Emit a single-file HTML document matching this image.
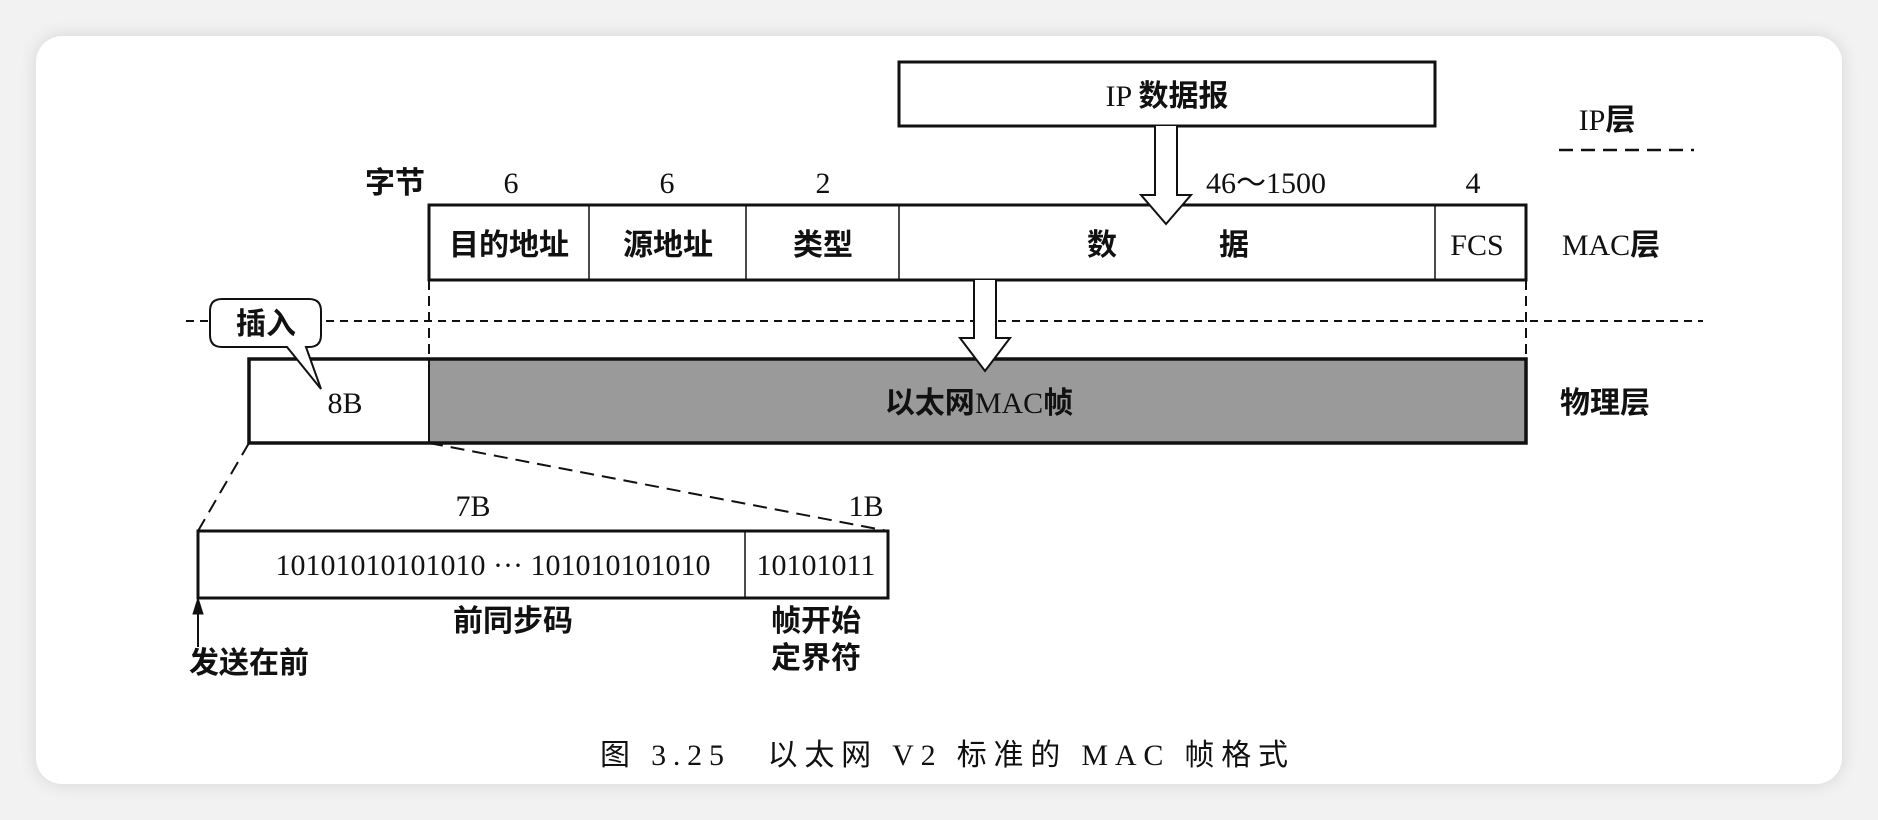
<!DOCTYPE html>
<html><head><meta charset="utf-8"><style>
html,body{margin:0;padding:0;background:#f2f2f2;}
body{width:1878px;height:820px;overflow:hidden;position:relative;}
.card{position:absolute;left:36px;top:36px;width:1806px;height:748px;background:#fff;border-radius:26px;box-shadow:0 0 18px rgba(0,0,0,0.12);}
svg{position:absolute;left:0;top:0;}
text{font-family:"Liberation Serif","Noto Sans CJK SC",serif;font-size:30px;fill:#111;}
.c{font-family:"Liberation Serif","Noto Sans CJK SC",sans-serif;font-weight:bold;}
</style></head><body>
<div class="card"></div>
<svg width="1878" height="820" viewBox="0 0 1878 820">
<g stroke="#111" fill="none">
<rect x="899" y="62" width="536" height="64" stroke-width="3" fill="#fff"/>
<line x1="1559" y1="150" x2="1694" y2="150" stroke-width="2.5" stroke-dasharray="14,8"/>
<rect x="429" y="205" width="1097" height="75" stroke-width="3" fill="#fff"/>
<line x1="589" y1="205" x2="589" y2="280" stroke-width="1.5"/>
<line x1="746" y1="205" x2="746" y2="280" stroke-width="1.5"/>
<line x1="899" y1="205" x2="899" y2="280" stroke-width="1.5"/>
<line x1="1435" y1="205" x2="1435" y2="280" stroke-width="1.5"/>
<line x1="429" y1="280" x2="429" y2="359" stroke-width="2" stroke-dasharray="10,6"/>
<line x1="1526" y1="280" x2="1526" y2="359" stroke-width="2" stroke-dasharray="10,6"/>
<line x1="186" y1="321" x2="1703" y2="321" stroke-width="2" stroke-dasharray="8,6"/>
<rect x="429" y="359" width="1097" height="84" fill="#9a9a9a" stroke="none"/>
<rect x="249" y="359" width="1277" height="84" stroke-width="3.5"/>
<line x1="429" y1="359" x2="429" y2="443" stroke-width="2"/>
<path d="M222,299 H309 Q321,299 321,311 V335 Q321,347 309,347 H306 L321,389 L287,347 H222 Q210,347 210,335 V311 Q210,299 222,299 Z" stroke-width="2" fill="#fff"/>
<path d="M1155,126 V195 H1141 L1166,224 L1191,195 H1177 V126" stroke-width="2" fill="#fff"/>
<path d="M974,280 V338 H960 L985,371 L1010,338 H996 V280" stroke-width="2" fill="#fff"/>
<line x1="249" y1="443" x2="198" y2="531" stroke-width="2" stroke-dasharray="14,8"/>
<line x1="429" y1="443" x2="888" y2="531" stroke-width="2" stroke-dasharray="14,8"/>
<rect x="198" y="531" width="690" height="67" stroke-width="3"/>
<line x1="745" y1="531" x2="745" y2="598" stroke-width="1.5"/>
<line x1="198" y1="647" x2="198" y2="606" stroke-width="2"/>
<path d="M198,598 L193,614 L203,614 Z" fill="#111"/>
</g>
<text x="1167" y="106" text-anchor="middle">IP <tspan class="c">数据报</tspan></text>
<text x="1607" y="130" text-anchor="middle">IP<tspan class="c">层</tspan></text>
<text x="395" y="193" text-anchor="middle" class="c">字节</text>
<text x="511" y="193" text-anchor="middle">6</text>
<text x="667" y="193" text-anchor="middle">6</text>
<text x="823" y="193" text-anchor="middle">2</text>
<text x="1266" y="193" text-anchor="middle">46～1500</text>
<text x="1473" y="193" text-anchor="middle">4</text>
<text x="509" y="255" text-anchor="middle" class="c">目的地址</text>
<text x="668" y="255" text-anchor="middle" class="c">源地址</text>
<text x="823" y="255" text-anchor="middle" class="c">类型</text>
<text x="1102" y="255" text-anchor="middle" class="c">数</text>
<text x="1234" y="255" text-anchor="middle" class="c">据</text>
<text x="1477" y="255" text-anchor="middle">FCS</text>
<text x="1611" y="255" text-anchor="middle">MAC<tspan class="c">层</tspan></text>
<text x="266" y="334" text-anchor="middle" class="c">插入</text>
<text x="345" y="413" text-anchor="middle">8B</text>
<text x="979" y="413" text-anchor="middle"><tspan class="c">以太网</tspan>MAC<tspan class="c">帧</tspan></text>
<text x="1605" y="413" text-anchor="middle" class="c">物理层</text>
<text x="473" y="516" text-anchor="middle">7B</text>
<text x="866" y="516" text-anchor="middle">1B</text>
<text x="493" y="575" text-anchor="middle">10101010101010 ··· 101010101010</text>
<text x="816" y="575" text-anchor="middle">10101011</text>
<text x="513" y="631" text-anchor="middle" class="c">前同步码</text>
<text x="816" y="631" text-anchor="middle" class="c">帧开始</text>
<text x="816" y="668" text-anchor="middle" class="c">定界符</text>
<text x="249" y="673" text-anchor="middle" class="c">发送在前</text>
<text x="600" y="765" font-size="36" textLength="688" lengthAdjust="spacing">图 3.25　以太网 V2 标准的 MAC 帧格式</text>
</svg>
</body></html>
